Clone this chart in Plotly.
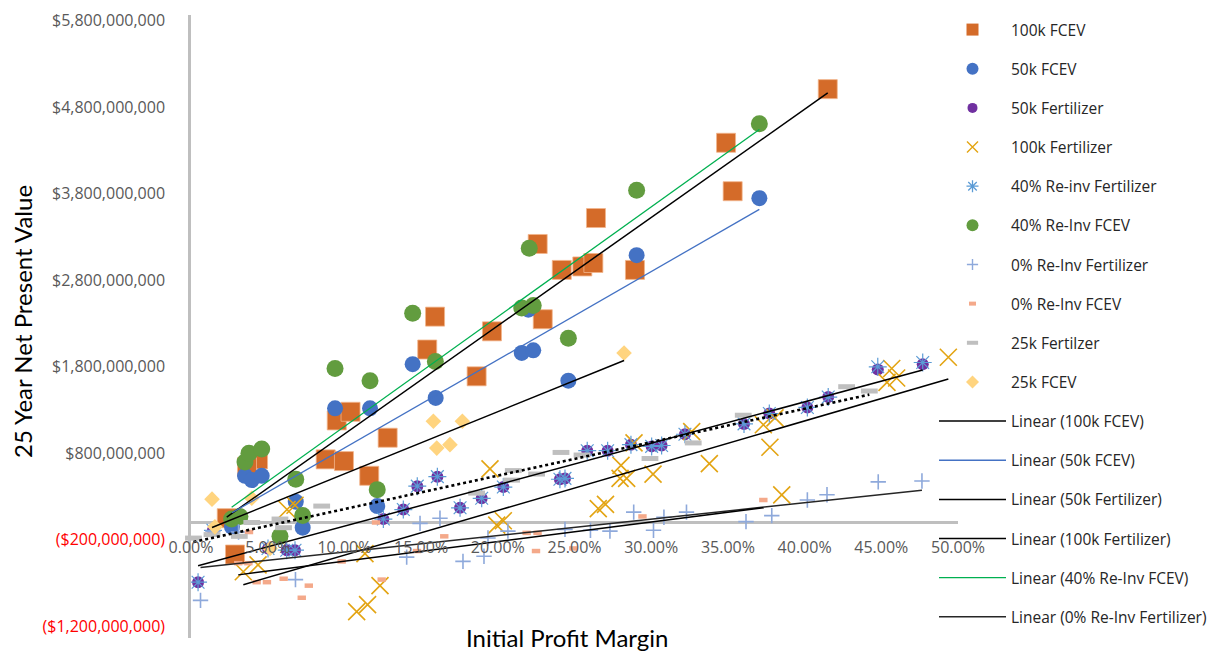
import numpy as np
import plotly.graph_objects as go

# ---------------- data (x in %, y in billions of $) ----------------
fcev100_x = [41.51, 34.88, 35.31, 26.40, 22.60, 24.17, 25.51, 26.23, 28.94, 22.93, 19.62, 15.91,
             15.40, 18.62, 9.50, 10.40, 8.78, 9.97, 12.82, 11.62, 4.37, 3.65, 2.33, 2.87]
fcev100_y = [5.01, 4.39, 3.83, 3.52, 3.22, 2.92, 2.96, 3.00, 2.92, 2.35, 2.21, 2.38,
             2.00, 1.69, 1.18, 1.28, 0.73, 0.71, 0.98, 0.54, 0.73, 0.64, 0.05, -0.37]

fcev50_x = [37.05, 29.05, 21.99, 21.56, 22.31, 24.60, 14.45, 15.95, 9.39, 11.67, 3.52, 3.96,
            4.61, 6.83, 12.14, 7.28, 2.67]
fcev50_y = [3.75, 3.09, 2.46, 1.96, 1.99, 1.64, 1.83, 1.44, 1.32, 1.32, 0.54, 0.49,
            0.54, 0.24, 0.19, -0.06, -0.05]

fert50_x = [47.70, 44.77, 41.54, 40.18, 37.70, 36.05, 32.20, 30.68, 30.03, 28.68, 27.16, 25.83,
            24.38, 24.05, 20.36, 18.95, 17.54, 16.06, 14.75, 13.84, 12.54, 6.78, 6.24, 5.02, 0.46, 1.43]
fert50_y = [1.83, 1.77, 1.45, 1.33, 1.26, 1.14, 1.02, 0.89, 0.88, 0.90, 0.83, 0.83,
            0.51, 0.50, 0.41, 0.28, 0.17, 0.53, 0.42, 0.15, 0.04, -0.32, -0.32, -0.30, -0.69, -0.09]

fert100_x = [49.37, 45.68, 45.37, 46.00, 38.51, 37.74, 37.31, 38.07, 33.79, 32.64, 30.12, 28.88,
             28.03, 27.97, 28.40, 26.55, 27.02, 19.49, 19.93, 20.36, 11.34, 12.32, 10.80, 11.51,
             3.41, 4.37, 6.26, 6.78]
fert100_y = [1.91, 1.78, 1.62, 1.67, 0.32, 0.87, 1.13, 1.21, 0.68, 1.05, 0.56, 0.92,
             0.66, 0.51, 0.51, 0.16, 0.21, 0.62, -0.03, 0.02, -0.36, -0.73, -1.03, -0.95,
             -0.57, -0.49, 0.15, 0.20]

reinv40_fert_x = [47.70, 44.77, 41.54, 40.18, 37.70, 36.05, 32.20, 30.68, 30.03, 28.68, 27.16, 25.83,
                  24.38, 24.05, 20.36, 18.95, 17.54, 16.06, 14.75, 13.84, 12.54, 6.78, 6.24, 5.02, 0.46, 1.43]
reinv40_fert_y = [1.85, 1.80, 1.45, 1.33, 1.26, 1.14, 1.02, 0.89, 0.88, 0.90, 0.83, 0.83,
                  0.51, 0.50, 0.41, 0.28, 0.17, 0.53, 0.42, 0.15, 0.04, -0.32, -0.32, -0.30, -0.69, -0.09]

reinv40_fcev_x = [37.05, 29.05, 22.05, 22.31, 21.56, 24.60, 14.45, 15.93, 9.39, 11.67, 6.83, 12.14,
                  7.28, 5.80, 3.52, 3.78, 4.61, 2.65, 3.19]
reinv40_fcev_y = [4.61, 3.84, 3.17, 2.51, 2.48, 2.13, 2.42, 1.86, 1.78, 1.64, 0.50, 0.38,
                  0.08, -0.16, 0.70, 0.80, 0.85, 0.04, 0.07]

reinv0_fert_x = [47.65, 44.80, 41.46, 40.18, 37.86, 36.18, 32.30, 30.83, 30.15, 28.86, 27.31, 26.04,
                 24.38, 20.66, 19.36, 19.10, 17.73, 16.23, 14.93, 14.06, 6.81, 3.10, 1.43, 0.62]
reinv0_fert_y = [0.48, 0.47, 0.32, 0.26, 0.08, 0.01, 0.12, 0.06, -0.09, 0.12, -0.10, -0.09,
                 -0.08, -0.10, -0.18, -0.39, -0.45, 0.05, -0.01, -0.40, -0.66, -0.11, -0.10, -0.90]

reinv0_fcev_x = [37.31, 29.43, 12.06, 16.51, 21.88, 22.59, 22.49, 24.92, 14.73, 9.82, 12.43, 3.08,
                 3.74, 4.28, 4.95, 6.04, 7.68, 7.22, 3.78]
reinv0_fcev_y = [0.26, 0.07, 0.00, -0.16, -0.12, -0.12, -0.33, -0.30, -0.33, -0.45, -0.66, -0.47,
                 -0.47, -0.69, -0.69, -0.65, -0.73, -0.87, -0.11]

fert25_x = [44.22, 42.74, 36.00, 32.74, 29.92, 25.49, 24.12, 22.53, 21.01, 20.90, 18.62, 8.52,
            5.80, 6.03, 3.96, 3.15, 1.37, 0.16]
fert25_y = [1.52, 1.57, 1.24, 0.92, 0.74, 0.78, 0.81, 0.56, 0.60, 0.49, 0.34, 0.19,
            0.04, -0.06, 0.00, -0.16, -0.14, -0.18]

fcev25_x = [28.23, 15.80, 17.69, 16.02, 16.88, 1.37, 3.96, 1.56, 5.15]
fcev25_y = [1.96, 1.17, 1.17, 0.86, 0.90, 0.27, 0.28, -0.05, -0.30]

x_ticks = [0, 0.05, 0.10, 0.15, 0.20, 0.25, 0.30, 0.35, 0.40, 0.45, 0.50]
y_ticks = [-1.2e9, -0.2e9, 0.8e9, 1.8e9, 2.8e9, 3.8e9, 4.8e9, 5.8e9]
y_ticktext = ['<span style="color:#FF0000">($1,200,000,000)</span>',
              '<span style="color:#FF0000">($200,000,000)</span>',
              '$800,000,000', '$1,800,000,000', '$2,800,000,000',
              '$3,800,000,000', '$4,800,000,000', '$5,800,000,000']


def px(v):
    return np.array(v) / 100.0


def py(v):
    return np.array(v) * 1e9


fig = go.Figure()

# (name, x, y, chart marker, legend marker)
series = [
    ("100k FCEV", fcev100_x, fcev100_y,
     dict(symbol="square", size=19, color="#D46B29", line=dict(width=0.8, color="#F2B58C")),
     dict(symbol="square", size=12, color="#D46B29")),
    ("50k FCEV", fcev50_x, fcev50_y,
     dict(symbol="circle", size=16, color="#4472C4"),
     dict(symbol="circle", size=12, color="#4472C4")),
    ("50k Fertilizer", fert50_x, fert50_y,
     dict(symbol="circle", size=12, color="#7030A0"),
     dict(symbol="circle", size=10, color="#7030A0")),
    ("100k Fertilizer", fert100_x, fert100_y,
     dict(symbol="x-thin-open", size=17, color="#E3A412", line=dict(width=1.6, color="#E3A412")),
     dict(symbol="x-thin-open", size=11, color="#E3A412", line=dict(width=1.4, color="#E3A412"))),
    ("40% Re-inv Fertilizer", reinv40_fert_x, reinv40_fert_y,
     dict(symbol="asterisk-open", size=15, color="#5B9BD5", line=dict(width=1.2, color="#5B9BD5")),
     dict(symbol="asterisk-open", size=10, color="#5B9BD5", line=dict(width=1.3, color="#5B9BD5"))),
    ("40% Re-Inv FCEV", reinv40_fcev_x, reinv40_fcev_y,
     dict(symbol="circle", size=17, color="#629C3F"),
     dict(symbol="circle", size=12, color="#629C3F")),
    ("0% Re-Inv Fertilizer", reinv0_fert_x, reinv0_fert_y,
     dict(symbol="cross-thin-open", size=11, color="#8EA9DB", line=dict(width=1.6, color="#8EA9DB")),
     dict(symbol="cross-thin-open", size=8, color="#8EA9DB", line=dict(width=1.4, color="#8EA9DB"))),
    ("0% Re-Inv FCEV", reinv0_fcev_x, reinv0_fcev_y,
     dict(symbol="line-ew-open", size=6, color="#F4A98A", line=dict(width=4.5, color="#F4A98A")),
     dict(symbol="line-ew-open", size=5, color="#F4A98A", line=dict(width=4, color="#F4A98A"))),
    ("25k Fertilzer", fert25_x, fert25_y,
     dict(symbol="line-ew-open", size=12, color="#BFBFBF", line=dict(width=5, color="#BFBFBF")),
     dict(symbol="line-ew-open", size=8, color="#BFBFBF", line=dict(width=4, color="#BFBFBF"))),
    ("25k FCEV", fcev25_x, fcev25_y,
     dict(symbol="diamond", size=12, color="#FFD47F"),
     dict(symbol="diamond", size=10, color="#FFD47F")),
]

for i, (name, xs, ys, mk, lmk) in enumerate(series):
    fig.add_trace(go.Scatter(x=px(xs), y=py(ys), mode="markers", name=name, marker=mk,
                             cliponaxis=False, showlegend=False, legendgroup=f"g{i}"))
    # legend entry (smaller marker, like the reference legend)
    fig.add_trace(go.Scatter(x=[None], y=[None], mode="markers", name=name, marker=lmk,
                             showlegend=True, legendgroup=f"g{i}"))


def trend(xs, ys):
    xs = np.array(xs, dtype=float)
    ys = np.array(ys, dtype=float)
    m, b = np.polyfit(xs, ys, 1)
    xe = np.array([xs.min(), xs.max()])
    return px(xe), py(m * xe + b)


trends = [
    ("Linear (100k FCEV)", fcev100_x, fcev100_y, dict(color="#000000", width=1.5), True),
    ("Linear (50k FCEV)", fcev50_x, fcev50_y, dict(color="#4472C4", width=1.3), True),
    ("Linear (50k Fertilizer)", fert50_x, fert50_y, dict(color="#000000", width=1.5), True),
    ("Linear (100k Fertilizer)", fert100_x, fert100_y, dict(color="#000000", width=1.5), True),
    ("Linear (40% Re-Inv FCEV)", reinv40_fcev_x, reinv40_fcev_y, dict(color="#00B050", width=1.3), True),
    ("Linear (0% Re-Inv Fertilizer)", reinv0_fert_x, reinv0_fert_y, dict(color="#262626", width=1.5), True),
    ("Linear (0% Re-Inv FCEV)", reinv0_fcev_x, reinv0_fcev_y, dict(color="#000000", width=1.5), False),
    ("Linear (25k FCEV)", fcev25_x, fcev25_y, dict(color="#000000", width=1.5), False),
    ("Linear (25k Fertilzer)", fert25_x, fert25_y, dict(color="#000000", width=2.6, dash="dot"), False),
]

for j, (name, xs, ys, ln, show) in enumerate(trends):
    tx, ty = trend(xs, ys)
    fig.add_trace(go.Scatter(x=tx, y=ty, mode="lines", name=name, line=ln, showlegend=show,
                             legendgroup=f"t{j}", cliponaxis=False))

L, R, T, B = 191, 958, 15, 638
W, H = 1226, 654
zero_px = 522.5
ppb = 86.5
y_top = (zero_px - T) / ppb * 1e9
y_bot = -(B - zero_px) / ppb * 1e9

fig.update_layout(
    width=W, height=H,
    margin=dict(l=L, r=W - R, t=T, b=H - B, pad=0, autoexpand=False),
    paper_bgcolor="white", plot_bgcolor="white",
    font=dict(family="Open Sans, sans-serif", size=16, color="#595959"),
    showlegend=True,
    legend=dict(x=(934 - L) / (R - L), xanchor="left", y=(B - 13) / (B - T), yanchor="top",
                traceorder="grouped", tracegroupgap=16, itemwidth=67, itemsizing="trace",
                maxheight=1000,
                font=dict(family="Open Sans, sans-serif", size=15.5, color="#262626"),
                bgcolor="rgba(0,0,0,0)", borderwidth=0),
    xaxis=dict(range=[0, 0.5], tickvals=x_ticks, tickformat=".2%", showgrid=False,
               zeroline=False, showline=False, ticks="", anchor="free",
               position=(B - 536) / (B - T),
               tickfont=dict(family="Open Sans, sans-serif", size=16, color="#595959")),
    yaxis=dict(range=[y_bot, y_top], tickvals=y_ticks, ticktext=y_ticktext, showgrid=False,
               zeroline=True, zerolinecolor="#BFBFBF", zerolinewidth=2.5,
               showline=True, linecolor="#BFBFBF", linewidth=2.5, ticks="",
               ticklabelstandoff=20,
               tickfont=dict(family="Open Sans, sans-serif", size=16, color="#595959")),
    annotations=[
        dict(text="25 Year Net Present Value", xref="paper", yref="paper",
             x=(22 - L) / (R - L), y=(B - 322) / (B - T), xanchor="center", yanchor="middle",
             textangle=-90, showarrow=False,
             font=dict(family="Lato, sans-serif", size=24, color="#000000")),
        dict(text="Initial Profit Margin", xref="paper", yref="paper",
             x=(567 - L) / (R - L), y=(B - 637) / (B - T), xanchor="center", yanchor="middle",
             showarrow=False,
             font=dict(family="Lato, sans-serif", size=24, color="#000000")),
    ],
)

fig.write_html(
    "out.html",
    config={"displayModeBar": False},
    post_script="document.body.style.margin='0';document.body.style.overflow='hidden';",
)
